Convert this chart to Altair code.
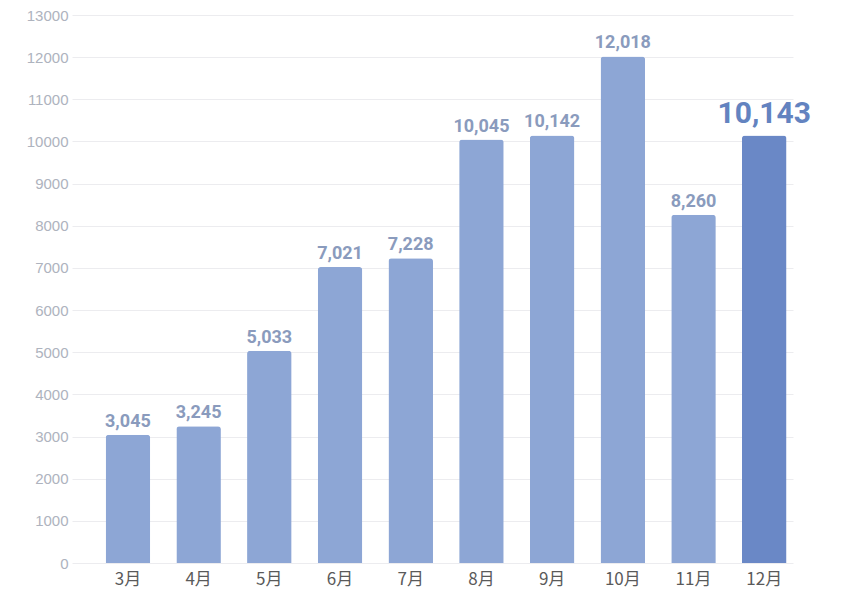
import altair as alt
import pandas as pd

months = ["3月", "4月", "5月", "6月", "7月", "8月", "9月", "10月", "11月", "12月"]
values = [3045, 3245, 5033, 7021, 7228, 10045, 10142, 12018, 8260, 10143]
highlight = [0, 0, 0, 0, 0, 0, 0, 0, 0, 1]
y_ticks = list(range(0, 13001, 1000))

df = pd.DataFrame({"month": months, "value": values, "hl": highlight})

x = alt.X(
    "month:N",
    sort=months,
    title=None,
    scale=alt.Scale(paddingInner=0.37, paddingOuter=0.284, align=0.838),
    axis=alt.Axis(
        domain=False, ticks=False, grid=False, labelAngle=0,
        labelFont="Noto Sans CJK SC", labelFontSize=17, labelColor="#5a5a5a",
        labelPadding=8,
    ),
)
y = alt.Y(
    "value:Q",
    title=None,
    scale=alt.Scale(domain=[0, 13000], nice=False),
    axis=alt.Axis(
        values=y_ticks, domain=False, ticks=False, grid=True,
        gridColor="#ececef", gridWidth=1,
        labelFont="Liberation Sans", labelFontSize=15, labelColor="#aeb3be",
        labelPadding=4, format="d",
    ),
)

base = alt.Chart(df).encode(x=x, y=y)

bars = base.mark_bar(cornerRadiusTopLeft=3, cornerRadiusTopRight=3).encode(
    color=alt.condition(alt.datum.hl == 1, alt.value("#6a88c6"), alt.value("#8da6d5"))
)

labels = base.transform_filter(alt.datum.hl == 0).mark_text(
    font="Roboto", fontWeight="bold", fontSize=18, color="#8a9bbd",
    baseline="alphabetic", dy=-8,
).encode(text=alt.Text("value:Q", format=","))

big_label = base.transform_filter(alt.datum.hl == 1).mark_text(
    font="Roboto", fontWeight="bold", fontSize=30, color="#6383c0",
    baseline="alphabetic", dy=-12,
).encode(text=alt.Text("value:Q", format=","))

chart = (
    alt.layer(bars, labels, big_label)
    .properties(
        width=721, height=548,
        background="white",
        autosize=alt.AutoSizeParams(type="none"),
        padding={"left": 64, "top": 7, "right": 49, "bottom": 25},
    )
    .configure_view(strokeWidth=0, stroke=None)
)

chart.save("out.html", embed_options={"renderer": "svg", "actions": False})
